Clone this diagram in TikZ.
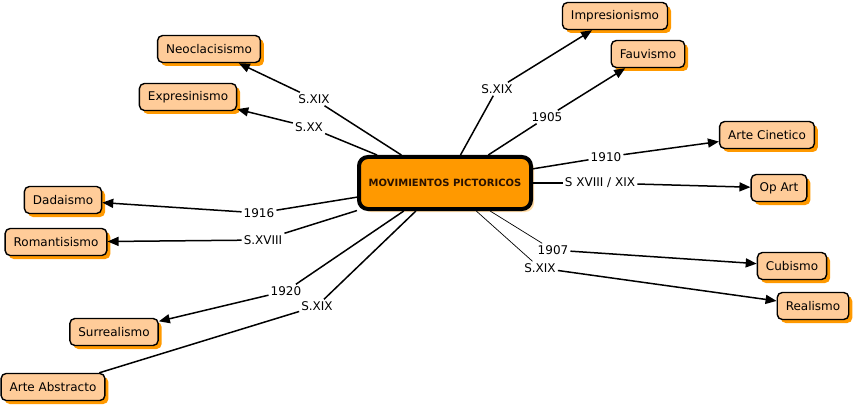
\documentclass[tikz,border=0pt]{standalone}
\usepackage{fontspec}
\setmainfont{DejaVu Sans}
\usetikzlibrary{arrows.meta,shadows}
\definecolor{ink}{HTML}{000000}
\definecolor{hubtext}{HTML}{2A1200}
\definecolor{peach}{HTML}{FFCC99}
\definecolor{amber}{HTML}{FF9900}
\tikzset{
  every picture/.style={font=\fontsize{12}{14}\selectfont},
  concept/.style={draw=ink,fill=peach,rounded corners=5pt,line width=1.4pt,inner xsep=8.5pt,inner ysep=0pt,minimum height=27pt,
    drop shadow={fill=amber,opacity=1,shadow xshift=3.5pt,shadow yshift=-3.5pt}},
  hub/.style={draw=ink,fill=amber,rounded corners=9pt,line width=4pt,minimum width=172pt,minimum height=52pt,text=hubtext,
    font=\bfseries\fontsize{10}{12}\selectfont,drop shadow={fill=amber!35,opacity=1,shadow xshift=3pt,shadow yshift=-3pt}},
  linkword/.style={inner sep=2pt,text=ink},
  link/.style={draw=ink,line width=1.5pt},
  thinlink/.style={draw=ink,line width=.7pt},
  arrowlink/.style={link,-{Triangle[length=11pt,width=9pt]}},
}

\begin{document}
\begin{tikzpicture}[x=1pt,y=-1pt]
  \useasboundingbox (0,0) rectangle (856,406);

  % central concept
  \node[hub] (hub) at (445,183) {MOVIMIENTOS PICTORICOS};

  % left side
  \node[concept] (neo) at (209,49) {Neoclacisismo};
  \node[concept] (expr) at (188,97) {Expresinismo};
  \node[concept] (dada) at (63,200) {Dadaismo};
  \node[concept] (roma) at (56,242) {Romantisismo};
  \node[concept] (surr) at (114,332) {Surrealismo};
  \node[concept] (abst) at (53,387) {Arte Abstracto};

  % right side
  \node[concept] (impr) at (615,16) {Impresionismo};
  \node[concept] (fauv) at (648,54) {Fauvismo};
  \node[concept] (cine) at (767,135) {Arte Cinetico};
  \node[concept] (opart) at (779,188) {Op Art};
  \node[concept] (cubi) at (792,266) {Cubismo};
  \node[concept] (real) at (813,306) {Realismo};

  % linking words
  \node[linkword] (lneo) at (314,99) {S.XIX};
  \node[linkword] (lexpr) at (309,127) {S.XX};
  \node[linkword] (ldada) at (259,213) {1916};
  \node[linkword] (lroma) at (263,240) {S.XVIII};
  \node[linkword] (lsurr) at (286,291) {1920};
  \node[linkword] (labst) at (317,306) {S.XIX};
  \node[linkword] (limpr) at (497,89) {S.XIX};
  \node[linkword] (lfauv) at (547,117) {1905};
  \node[linkword] (lcine) at (606,157) {1910};
  \node[linkword] (lopart) at (600,183) {S XVIII / XIX};
  \node[linkword] (lcubi) at (553,250) {1907};
  \node[linkword] (lreal) at (540,268) {S.XIX};

  % hub to linking words, then on to the concepts
  \foreach \l in {lneo,lexpr,ldada,lroma,lsurr,labst,limpr,lfauv,lcine,lopart} \draw[link] (hub) -- (\l);
  \foreach \l in {lcubi,lreal} \draw[thinlink] (hub) -- (\l);
  \foreach \l/\c in {lneo/neo,lexpr/expr,ldada/dada,lroma/roma,lsurr/surr,limpr/impr,lfauv/fauv,lcine/cine,lopart/opart,lcubi/cubi,lreal/real}
    \draw[arrowlink] (\l) -- (\c);
  \draw[link] (labst) -- (abst);
\end{tikzpicture}
\end{document}
